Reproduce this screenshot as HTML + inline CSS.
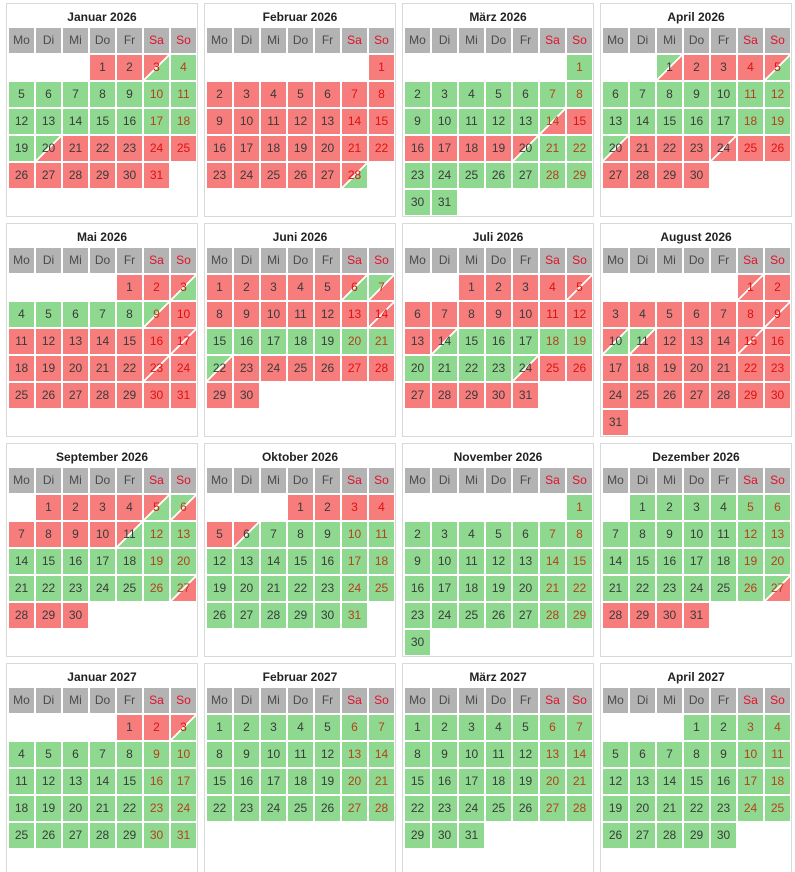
<!DOCTYPE html>
<html><head><meta charset="utf-8">
<style>
html,body{margin:0;width:795px;height:872px;overflow:hidden;}
body{background:#fff;position:relative;font-family:"Liberation Sans",sans-serif;}
.p{position:absolute;width:190px;border:1px solid #d9d9d9;box-sizing:content-box;}
.t{position:absolute;left:0;width:190px;top:6px;text-align:center;font-weight:bold;font-size:12px;color:#222;}
.c{position:absolute;width:25px;height:25px;line-height:25px;text-align:center;font-size:12px;color:#3a3a3a;}
.h{background:#b3b3b3;color:#4a4a4a;}
.hw{color:#e0102a;}
.R{background:#f77d7d;}
.G{background:#8fd88f;}
.we{color:#e01010;}
.G.we{color:#b5401a;}
</style></head><body>
<script>
const RED='#f77d7d',GRN='#8fd88f';
function grad(a,b){return `linear-gradient(to bottom right, ${a} calc(50% - 1px), #fff calc(50% - 1px), #fff calc(50% + 1px), ${b} calc(50% + 1px))`;}
function mk(n,def,ex){let s=[];for(let i=1;i<=n;i++)s.push(def);for(const k in ex){const [f,t,v]=ex[k];for(let d=f;d<=t;d++)s[d-1]=v;}return s;}
const months=[
["Januar 2026",3,mk(31,'G',[[1,2,'R'],[3,3,'a'],[20,20,'b'],[21,31,'R']])],
["Februar 2026",6,mk(28,'R',[[28,28,'a']])],
["März 2026",6,mk(31,'G',[[14,14,'b'],[15,19,'R'],[20,20,'a']])],
["April 2026",2,mk(30,'R',[[1,1,'b'],[5,5,'a'],[6,19,'G'],[20,20,'b'],[24,24,'c']])],
["Mai 2026",4,mk(31,'R',[[3,3,'a'],[4,8,'G'],[9,9,'b'],[17,17,'c'],[23,23,'c']])],
["Juni 2026",0,mk(30,'R',[[6,6,'a'],[7,7,'b'],[14,14,'c'],[15,21,'G'],[22,22,'b']])],
["Juli 2026",2,mk(31,'R',[[5,5,'c'],[14,14,'a'],[15,23,'G'],[24,24,'b']])],
["August 2026",5,mk(31,'R',[[1,1,'c'],[9,9,'c'],[10,10,'a'],[11,11,'b'],[15,15,'c']])],
["September 2026",1,mk(30,'G',[[1,4,'R'],[5,5,'a'],[6,6,'b'],[7,10,'R'],[11,11,'a'],[27,27,'b'],[28,30,'R']])],
["Oktober 2026",3,mk(31,'G',[[1,5,'R'],[6,6,'a']])],
["November 2026",6,mk(30,'G',[])],
["Dezember 2026",1,mk(31,'G',[[27,27,'b'],[28,31,'R']])],
["Januar 2027",4,mk(31,'G',[[1,2,'R'],[3,3,'a']])],
["Februar 2027",0,mk(28,'G',[])],
["März 2027",0,mk(31,'G',[])],
["April 2027",3,mk(30,'G',[])]
];
const hd=["Mo","Di","Mi","Do","Fr","Sa","So"];
let html='';
months.forEach((m,idx)=>{
 const col=idx%4,row=Math.floor(idx/4);
 const L=6+col*198,T=3+row*220;
 const H=row==3?215:212;
 html+=`<div class="p" style="left:${L}px;top:${T}px;height:${H}px"><div class="t">${m[0]}</div></div>`;
 hd.forEach((h,i)=>{html+=`<div class="c h ${i>4?'hw':''}" style="left:${L+3+i*27}px;top:${T+25}px">${h}</div>`;});
 m[2].forEach((code,d)=>{
  const pos=m[1]+d,r=Math.floor(pos/7),c=pos%7;
  const we=c>4?' we':'';
  let cls='R',st='';
  if(code==='G')cls='G';
  else if(code==='a'){cls='R';st=`background:${grad(RED,GRN)};`;}
  else if(code==='b'){cls='G';st=`background:${grad(GRN,RED)};`;}
  else if(code==='c'){cls='R';st=`background:${grad(RED,RED)};`;}
  html+=`<div class="c ${cls}${we}" style="left:${L+3+c*27}px;top:${T+52+r*27}px;${st}">${d+1}</div>`;
 });
});
document.write(html);
</script>
</body></html>
